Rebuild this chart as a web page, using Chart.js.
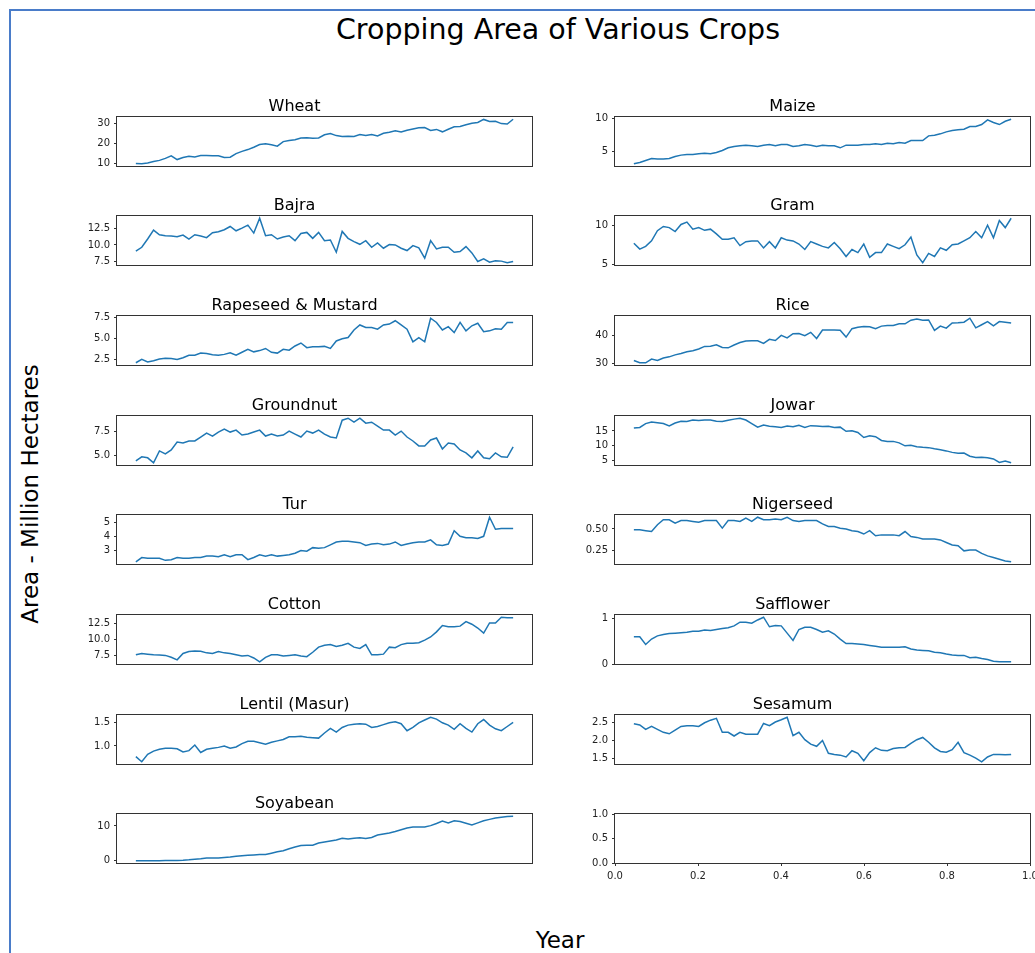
<!DOCTYPE html>
<html>
<head>
<meta charset="utf-8">
<title>Cropping Area of Various Crops</title>
<script src="https://cdn.jsdelivr.net/npm/chart.js@4.4.1/dist/chart.umd.min.js"></script>
<style>
  html, body { margin: 0; padding: 0; background: #fff; overflow: hidden; }
  body { width: 1035px; height: 953px; position: relative; font-family: "DejaVu Sans", sans-serif; color: #000; }
  .frame { position: absolute; left: 9px; top: 9px; width: 1100px; height: 1000px;
           border-left: 2px solid #4a7cc9; border-top: 2px solid #4a7cc9; }
  .suptitle { position: absolute; left: 258px; width: 600px; top: 13px; text-align: center;
              font-size: 28.5px; line-height: 34px; white-space: nowrap; }
  .ylabel { position: absolute; left: 30px; top: 494px; font-size: 23px; white-space: nowrap;
            transform: translate(-50%, -50%) rotate(-90deg); }
  .xlabel { position: absolute; left: 560px; top: 940px; font-size: 23px; white-space: nowrap;
            transform: translate(-50%, -50%); }
  .cell { position: absolute; }
  .cell canvas { display: block; }
</style>
</head>
<body>
<div class="frame"></div>
<div class="suptitle">Cropping Area of Various Crops</div>
<div class="ylabel">Area - Million Hectares</div>
<div class="xlabel">Year</div>

<script>
// x categories
const years = [1950, 1951, 1952, 1953, 1954, 1955, 1956, 1957, 1958, 1959,
  1960, 1961, 1962, 1963, 1964, 1965, 1966, 1967, 1968, 1969,
  1970, 1971, 1972, 1973, 1974, 1975, 1976, 1977, 1978, 1979,
  1980, 1981, 1982, 1983, 1984, 1985, 1986, 1987, 1988, 1989,
  1990, 1991, 1992, 1993, 1994, 1995, 1996, 1997, 1998, 1999,
  2000, 2001, 2002, 2003, 2004, 2005, 2006, 2007, 2008, 2009,
  2010, 2011, 2012, 2013, 2014];

// area, million hectares
const wheat = [9.8, 9.7, 10.1, 10.8, 11.4, 12.4, 13.7, 11.8, 12.8, 13.5,
  13.1, 13.8, 13.8, 13.7, 13.7, 12.8, 13.0, 14.8, 15.9, 16.8,
  18.0, 19.3, 19.7, 19.2, 18.5, 20.8, 21.3, 21.7, 22.6, 22.7,
  22.5, 22.6, 24.2, 24.8, 23.8, 23.4, 23.5, 23.4, 24.3, 23.8,
  24.4, 23.6, 25.0, 25.5, 26.2, 25.6, 26.5, 27.1, 27.7, 27.8,
  26.4, 26.9, 25.7, 27.0, 28.2, 28.4, 29.2, 30.0, 30.4, 31.9,
  30.9, 31.0, 29.8, 29.6, 32.0];
const maize = [3.2, 3.4, 3.7, 4.0, 3.9, 3.9, 4.0, 4.3, 4.5, 4.6,
  4.6, 4.7, 4.8, 4.7, 4.9, 5.2, 5.6, 5.8, 5.9, 6.0,
  5.9, 5.8, 6.0, 6.1, 5.9, 6.1, 6.1, 5.8, 5.9, 6.1,
  6.0, 5.8, 6.0, 5.9, 5.9, 5.6, 6.0, 6.0, 6.0, 6.1,
  6.1, 6.2, 6.1, 6.3, 6.2, 6.4, 6.3, 6.7, 6.7, 6.7,
  7.4, 7.5, 7.7, 8.0, 8.2, 8.3, 8.4, 8.8, 8.8, 9.1,
  9.8, 9.4, 9.1, 9.6, 9.9];
const bajra = [9.05, 9.65, 10.9, 12.25, 11.55, 11.4, 11.35, 11.25, 11.5, 10.9,
  11.55, 11.35, 11.1, 11.85, 12.0, 12.3, 12.8, 12.15, 12.55, 13.0,
  11.8, 14.05, 11.4, 11.55, 10.9, 11.2, 11.4, 10.65, 11.75, 11.9,
  11.0, 11.9, 10.65, 10.75, 8.9, 12.05, 11.0, 10.5, 10.1, 10.65,
  9.65, 10.3, 9.5, 10.05, 10.0, 9.5, 9.15, 9.9, 9.55, 8.0,
  10.65, 9.4, 9.65, 9.65, 8.9, 9.0, 9.75, 8.8, 7.5, 7.9,
  7.4, 7.6, 7.55, 7.3, 7.5];
const gram = [7.7, 6.95, 7.3, 8.0, 9.3, 9.85, 9.7, 9.2, 10.1, 10.4,
  9.5, 9.7, 9.35, 9.5, 8.9, 8.2, 8.2, 8.4, 7.4, 7.9,
  8.0, 8.0, 7.1, 7.9, 7.1, 8.4, 8.1, 8.0, 7.6, 6.9,
  7.9, 7.6, 7.3, 7.1, 7.8, 7.0, 6.0, 6.9, 6.5, 7.6,
  5.9, 6.5, 6.5, 7.6, 7.3, 7.0, 7.5, 8.5, 6.2, 5.2,
  6.4, 6.0, 7.1, 6.8, 7.5, 7.6, 8.0, 8.4, 9.2, 8.4,
  10.0, 8.4, 10.6, 9.7, 10.9];
const rapeseed = [2.1, 2.5, 2.2, 2.35, 2.55, 2.65, 2.6, 2.5, 2.7, 3.0,
  3.0, 3.25, 3.2, 3.05, 3.0, 3.1, 3.3, 3.0, 3.35, 3.7,
  3.4, 3.55, 3.8, 3.35, 3.25, 3.7, 3.6, 4.1, 4.45, 3.9,
  4.0, 4.0, 4.05, 3.8, 4.7, 4.95, 5.1, 6.0, 6.6, 6.3,
  6.3, 6.1, 6.6, 6.7, 7.1, 6.6, 6.1, 4.6, 5.1, 4.6,
  7.4, 6.9, 6.0, 6.4, 5.7, 6.9, 5.9, 6.5, 6.8, 5.8,
  5.9, 6.15, 6.1, 6.9, 6.9];
const rice = [31.0, 30.2, 30.2, 31.5, 31.0, 31.9, 32.3, 33.0, 33.5, 34.1,
  34.5, 35.1, 36.0, 36.1, 36.6, 35.6, 35.5, 36.5, 37.4, 37.9,
  38.0, 38.0, 37.1, 38.5, 38.1, 39.9, 39.0, 40.5, 40.6, 39.8,
  41.0, 38.8, 41.8, 41.8, 41.8, 41.7, 39.3, 42.3, 42.8, 43.1,
  43.0, 42.3, 43.2, 43.4, 43.4, 44.0, 44.0, 45.3, 45.7, 45.3,
  45.4, 41.7, 43.2, 42.5, 44.3, 44.4, 44.6, 46.0, 42.6, 43.7,
  44.8, 43.3, 44.8, 44.6, 44.3];
const groundnut = [4.5, 4.9, 4.8, 4.3, 5.5, 5.2, 5.6, 6.4, 6.3, 6.5,
  6.5, 6.9, 7.3, 7.0, 7.4, 7.7, 7.4, 7.6, 7.1, 7.2,
  7.4, 7.6, 7.0, 7.2, 7.0, 7.1, 7.5, 7.2, 6.9, 7.5,
  7.3, 7.6, 7.2, 6.9, 6.8, 8.6, 8.8, 8.4, 8.8, 8.3,
  8.4, 8.0, 7.6, 7.6, 7.1, 7.5, 6.9, 6.5, 6.0, 6.0,
  6.6, 6.8, 5.7, 6.3, 6.2, 5.6, 5.3, 4.8, 5.5, 4.8,
  4.7, 5.3, 4.9, 4.85, 5.9];
const jowar = [16.0, 16.2, 17.5, 18.0, 17.8, 17.5, 16.7, 17.7, 18.3, 18.2,
  18.7, 18.5, 18.7, 18.7, 18.3, 18.2, 18.6, 19.0, 19.3, 18.7,
  17.5, 16.3, 17.0, 16.6, 16.4, 16.2, 16.7, 16.4, 16.9, 16.2,
  16.8, 16.7, 16.5, 16.6, 16.2, 16.3, 14.9, 15.1, 14.5, 12.8,
  13.4, 13.1, 11.8, 11.5, 11.5, 11.0, 10.0, 10.2, 9.7, 9.5,
  9.4, 9.0, 8.7, 8.3, 7.8, 7.5, 7.6, 6.5, 6.1, 6.2,
  6.0, 5.6, 4.4, 4.9, 4.3];
const tur = [2.2, 2.5, 2.45, 2.45, 2.45, 2.3, 2.35, 2.5, 2.45, 2.45,
  2.5, 2.5, 2.6, 2.6, 2.55, 2.7, 2.55, 2.7, 2.7, 2.35,
  2.5, 2.7, 2.6, 2.7, 2.6, 2.65, 2.7, 2.8, 3.0, 2.95,
  3.2, 3.15, 3.2, 3.4, 3.6, 3.65, 3.65, 3.6, 3.55, 3.35,
  3.45, 3.5, 3.4, 3.45, 3.6, 3.35, 3.45, 3.55, 3.6, 3.6,
  3.75, 3.4, 3.35, 3.45, 4.4, 4.0, 3.9, 3.9, 3.85, 4.0,
  5.35, 4.5, 4.55, 4.55, 4.55];
const nigerseed = [0.49, 0.49, 0.48, 0.47, 0.55, 0.61, 0.61, 0.57, 0.60, 0.60,
  0.59, 0.58, 0.60, 0.60, 0.60, 0.51, 0.60, 0.60, 0.59, 0.63,
  0.59, 0.64, 0.61, 0.61, 0.62, 0.61, 0.64, 0.60, 0.59, 0.60,
  0.60, 0.60, 0.56, 0.53, 0.53, 0.51, 0.50, 0.48, 0.47, 0.44,
  0.48, 0.42, 0.43, 0.43, 0.43, 0.42, 0.47, 0.41, 0.40, 0.38,
  0.38, 0.38, 0.37, 0.34, 0.31, 0.30, 0.24, 0.25, 0.25, 0.21,
  0.18, 0.16, 0.14, 0.12, 0.11];
const cotton = [7.6, 7.8, 7.7, 7.6, 7.55, 7.5, 7.2, 6.8, 7.8, 8.1,
  8.2, 8.15, 7.9, 7.8, 8.1, 7.9, 7.8, 7.6, 7.4, 7.5,
  7.1, 6.5, 7.2, 7.6, 7.6, 7.4, 7.5, 7.6, 7.4, 7.3,
  8.0, 8.8, 9.1, 9.2, 8.9, 9.1, 9.4, 8.8, 8.6, 9.2,
  7.6, 7.6, 7.7, 8.8, 8.7, 9.2, 9.4, 9.4, 9.5, 9.9,
  10.4, 11.2, 12.2, 12.0, 12.0, 12.1, 12.8, 12.4, 11.8, 11.0,
  12.6, 12.6, 13.5, 13.4, 13.4];
const safflower = [0.60, 0.60, 0.43, 0.55, 0.62, 0.65, 0.67, 0.68, 0.69, 0.70,
  0.72, 0.72, 0.75, 0.74, 0.76, 0.78, 0.80, 0.84, 0.92, 0.92,
  0.90, 0.97, 1.03, 0.82, 0.85, 0.84, 0.68, 0.52, 0.76, 0.81,
  0.81, 0.76, 0.70, 0.73, 0.66, 0.55, 0.45, 0.45, 0.44, 0.43,
  0.41, 0.39, 0.37, 0.37, 0.37, 0.37, 0.38, 0.33, 0.31, 0.30,
  0.29, 0.26, 0.25, 0.22, 0.20, 0.19, 0.19, 0.14, 0.15, 0.12,
  0.10, 0.06, 0.05, 0.05, 0.05];
const lentil = [0.77, 0.66, 0.82, 0.89, 0.93, 0.95, 0.95, 0.94, 0.87, 0.90,
  1.02, 0.86, 0.93, 0.95, 0.97, 1.00, 0.95, 0.98, 1.05, 1.10,
  1.10, 1.07, 1.04, 1.08, 1.11, 1.14, 1.20, 1.20, 1.21, 1.19,
  1.18, 1.17, 1.28, 1.38, 1.30, 1.40, 1.45, 1.47, 1.48, 1.47,
  1.40, 1.42, 1.46, 1.50, 1.52, 1.48, 1.33, 1.40, 1.50, 1.56,
  1.62, 1.58, 1.50, 1.45, 1.36, 1.48, 1.38, 1.30, 1.48, 1.57,
  1.45, 1.37, 1.33, 1.42, 1.51];
const sesamum = [2.45, 2.42, 2.30, 2.38, 2.30, 2.22, 2.18, 2.28, 2.38, 2.40,
  2.40, 2.38, 2.48, 2.55, 2.60, 2.22, 2.22, 2.12, 2.22, 2.17,
  2.17, 2.17, 2.46, 2.40, 2.50, 2.56, 2.63, 2.13, 2.22, 2.02,
  1.90, 1.84, 2.00, 1.65, 1.62, 1.60, 1.55, 1.72, 1.65, 1.45,
  1.67, 1.80, 1.73, 1.72, 1.78, 1.80, 1.81, 1.92, 2.02, 2.08,
  1.95, 1.80, 1.70, 1.68, 1.75, 1.95, 1.67, 1.60, 1.52, 1.42,
  1.55, 1.62, 1.62, 1.61, 1.62];
const soyabean = [0.03, 0.03, 0.04, 0.05, 0.06, 0.08, 0.1, 0.14, 0.2, 0.3,
  0.45, 0.6, 0.8, 0.8, 0.8, 1.0, 1.1, 1.3, 1.5, 1.6,
  1.7, 1.8, 1.8, 2.2, 2.6, 2.9, 3.5, 4.0, 4.4, 4.5,
  4.5, 5.1, 5.4, 5.7, 6.0, 6.5, 6.3, 6.5, 6.6, 6.4,
  6.7, 7.4, 7.7, 8.0, 8.4, 8.9, 9.4, 9.7, 9.7, 9.7,
  10.1, 10.7, 11.4, 10.9, 11.5, 11.3, 10.8, 10.3, 10.9, 11.5,
  11.9, 12.3, 12.5, 12.7, 12.8];

// subplot titles, in grid order
const cropNames = ["Wheat", "Maize", "Bajra", "Gram", "Rapeseed & Mustard", "Rice",
  "Groundnut", "Jowar", "Tur", "Nigerseed", "Cotton", "Safflower",
  "Lentil (Masur)", "Sesamum", "Soyabean"];
const cropSeries = [wheat, maize, bajra, gram, rapeseed, rice, groundnut, jowar,
  tur, nigerseed, cotton, safflower, lentil, sesamum, soyabean];

// y tick labels of each subplot
const wheatTicks = ["10", "20", "30"];
const maizeTicks = ["5", "10"];
const bajraTicks = ["7.5", "10.0", "12.5"];
const gramTicks = ["5", "10"];
const rapeseedTicks = ["2.5", "5.0", "7.5"];
const riceTicks = ["30", "40"];
const groundnutTicks = ["5.0", "7.5"];
const jowarTicks = ["5", "10", "15"];
const turTicks = ["3", "4", "5"];
const nigerseedTicks = ["0.25", "0.50"];
const cottonTicks = ["7.5", "10.0", "12.5"];
const safflowerTicks = ["0", "1"];
const lentilTicks = ["1.0", "1.5"];
const sesamumTicks = ["1.5", "2.0", "2.5"];
const soyabeanTicks = ["0", "10"];
const cropTicks = [wheatTicks, maizeTicks, bajraTicks, gramTicks, rapeseedTicks, riceTicks,
  groundnutTicks, jowarTicks, turTicks, nigerseedTicks, cottonTicks, safflowerTicks,
  lentilTicks, sesamumTicks, soyabeanTicks];

// the unused 16th axes
const emptyXTicks = ["0.0", "0.2", "0.4", "0.6", "0.8", "1.0"];
const emptyYTicks = ["0.0", "0.5", "1.0"];

const FONT = "DejaVu Sans";
const LINE = "#1f77b4";
const colLeft = [117, 615];
const boxW = 415, boxH = 49;
const gutter = 60;     // room for y tick labels
const topSpace = 26;   // room for the subplot title
const rowTop = r => Math.round(116.5 + r * 99.7);

// draws the full axes box like matplotlib spines
const framePlugin = {
  id: "frame",
  afterDatasetsDraw(chart) {
    const { ctx, chartArea: a } = chart;
    ctx.save();
    ctx.strokeStyle = "#333";
    ctx.lineWidth = 1;
    ctx.strokeRect(a.left - 0.5, a.top - 0.5, a.right - a.left + 1, a.bottom - a.top + 1);
    ctx.restore();
  }
};

function padRange(lo, hi) {
  const m = (hi - lo) * 0.05;
  return [lo - m, hi + m];
}

function yAxis(labels, lo, hi) {
  const vals = labels.map(Number);
  return {
    min: lo, max: hi, bounds: "data",
    afterBuildTicks: s => { s.ticks = vals.map(v => ({ value: v })); },
    afterFit: s => { s.width = gutter; },
    ticks: { autoSkip: false, font: { family: FONT, size: 10 }, color: "#222", padding: 4,
             callback: (v, i) => labels[i] },
    grid: { display: true, drawOnChartArea: false, drawTicks: true, tickLength: 3,
            tickColor: "#333", tickWidth: 1 },
    border: { display: false }
  };
}

function makeCell(left, top, w, h) {
  const div = document.createElement("div");
  div.className = "cell";
  div.style.left = left + "px";
  div.style.top = top + "px";
  const cv = document.createElement("canvas");
  cv.width = w; cv.height = h;
  cv.style.width = w + "px"; cv.style.height = h + "px";
  div.appendChild(cv);
  document.body.appendChild(div);
  return cv;
}

cropNames.forEach((name, k) => {
  const r = Math.floor(k / 2), c = k % 2;
  const vals = cropSeries[k];
  const [xlo, xhi] = padRange(years[0], years[years.length - 1]);
  const [ylo, yhi] = padRange(Math.min(...vals), Math.max(...vals));
  const cv = makeCell(colLeft[c] - gutter, rowTop(r) - topSpace, gutter + boxW + 4, topSpace + boxH + 12);
  new Chart(cv, {
    type: "line",
    data: {
      datasets: [{
        data: years.map((yr, i) => ({ x: yr, y: vals[i] })),
        borderColor: LINE, borderWidth: 1.5, pointRadius: 0, fill: false, tension: 0
      }]
    },
    options: {
      responsive: false, animation: false, devicePixelRatio: 1,
      layout: { padding: { top: 6, left: 0, right: 4, bottom: 12 } },
      scales: {
        x: { type: "linear", min: xlo, max: xhi, display: false },
        y: yAxis(cropTicks[k], ylo, yhi)
      },
      plugins: {
        legend: { display: false },
        tooltip: { enabled: false },
        title: { display: true, text: name, color: "#000",
                 font: { family: FONT, size: 16, weight: "normal", lineHeight: 1.25 },
                 padding: { top: 0, bottom: 0 } }
      }
    },
    plugins: [framePlugin]
  });
});

// empty last axes
{
  const xv = emptyXTicks.map(Number);
  const cv = makeCell(colLeft[1] - gutter, rowTop(7) - topSpace, gutter + boxW + 14, topSpace + boxH + 24);
  new Chart(cv, {
    type: "line",
    data: { datasets: [] },
    options: {
      responsive: false, animation: false, devicePixelRatio: 1,
      layout: { padding: { top: topSpace, left: 0, right: 14, bottom: 2 } },
      scales: {
        x: {
          type: "linear", min: 0, max: 1, bounds: "data",
          afterBuildTicks: s => { s.ticks = xv.map(v => ({ value: v })); },
          afterFit: s => { s.height = 22; },
          ticks: { autoSkip: false, maxRotation: 0, font: { family: FONT, size: 10 }, color: "#222",
                   padding: 4, callback: (v, i) => emptyXTicks[i] },
          grid: { display: true, drawOnChartArea: false, drawTicks: true, tickLength: 3,
                  tickColor: "#333", tickWidth: 1 },
          border: { display: false }
        },
        y: yAxis(emptyYTicks, 0, 1)
      },
      plugins: { legend: { display: false }, tooltip: { enabled: false }, title: { display: false } }
    },
    plugins: [framePlugin]
  });
}
</script>
</body>
</html>
